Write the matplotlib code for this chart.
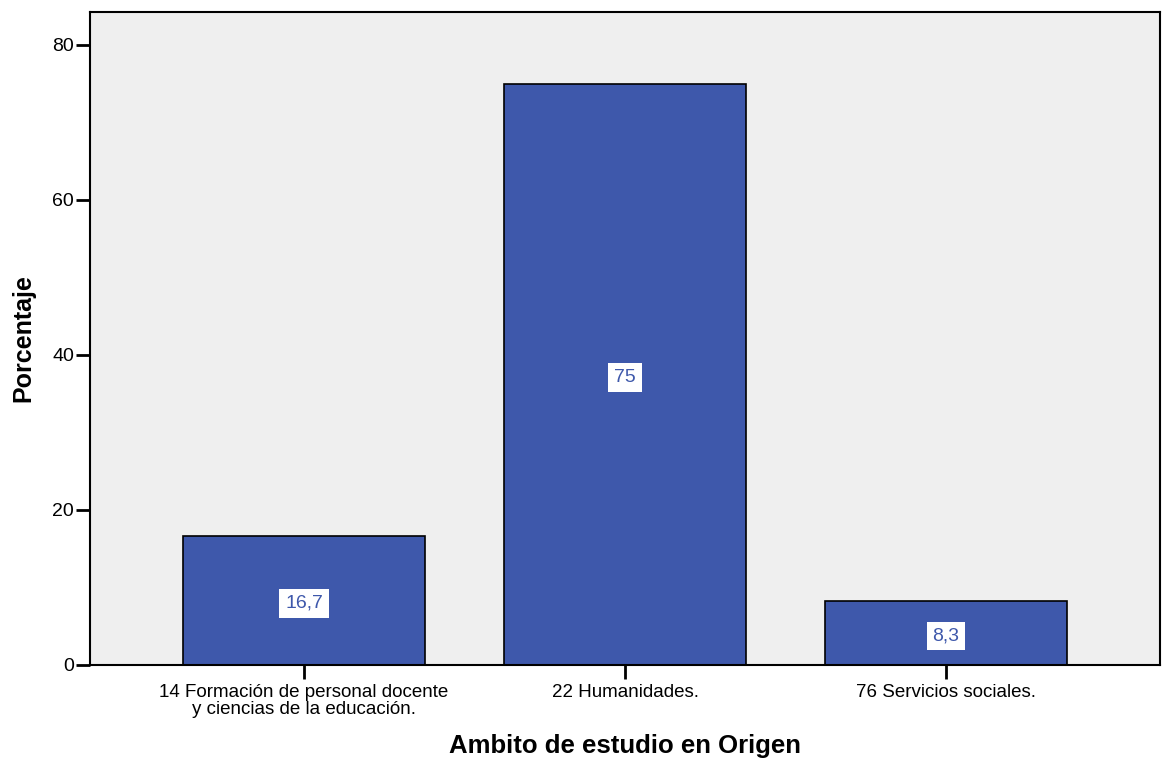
import matplotlib.pyplot as plt

categories = ['14 Formación de personal docente\ny ciencias de la educación.',
              '22 Humanidades.',
              '76 Servicios sociales.']
values = [16.7, 75.0, 8.3]
value_labels = ['16,7', '75', '8,3']
y_ticks = [0, 20, 40, 60, 80]

bar_color = '#3e58ab'

plt.rcParams['font.family'] = ['Liberation Sans', 'DejaVu Sans']

fig = plt.figure(figsize=(11.62, 7.58), dpi=100)
ax = fig.add_axes([0.0775, 0.1227, 0.9208, 0.8615])
ax.set_facecolor('#efefef')

x = list(range(len(categories)))
ax.bar(x, values, width=0.754, color=bar_color, edgecolor='black', linewidth=1.2, zorder=2)

# value labels in the middle of each bar
for xi, v, lab in zip(x, values, value_labels):
    ax.text(xi, v / 2 - 0.4, lab, ha='center', va='center', fontsize=14, color=bar_color,
            bbox=dict(boxstyle='square,pad=0.3', facecolor='white', edgecolor='none'), zorder=3)

ax.set_xlim(-0.667, 2.667)
ax.set_ylim(0, 84.26)
ax.set_yticks(y_ticks)
ax.set_xticks(x)
ax.set_xticklabels(categories, fontsize=13.5, linespacing=0.95)
ax.tick_params(axis='y', labelsize=14, length=10, width=2, pad=1.5)
ax.tick_params(axis='x', length=10, width=2, pad=4)

for s in ax.spines.values():
    s.set_linewidth(1.5)

# axis titles placed in figure coords
fig.text(0.0198, 0.554, 'Porcentaje', rotation=90, ha='center', va='center',
         fontsize=18, fontweight='bold')
fig.text(0.538, 0.0066, 'Ambito de estudio en Origen', ha='center', va='baseline',
         fontsize=18.5, fontweight='bold')

fig.savefig('out.png', dpi=100)
